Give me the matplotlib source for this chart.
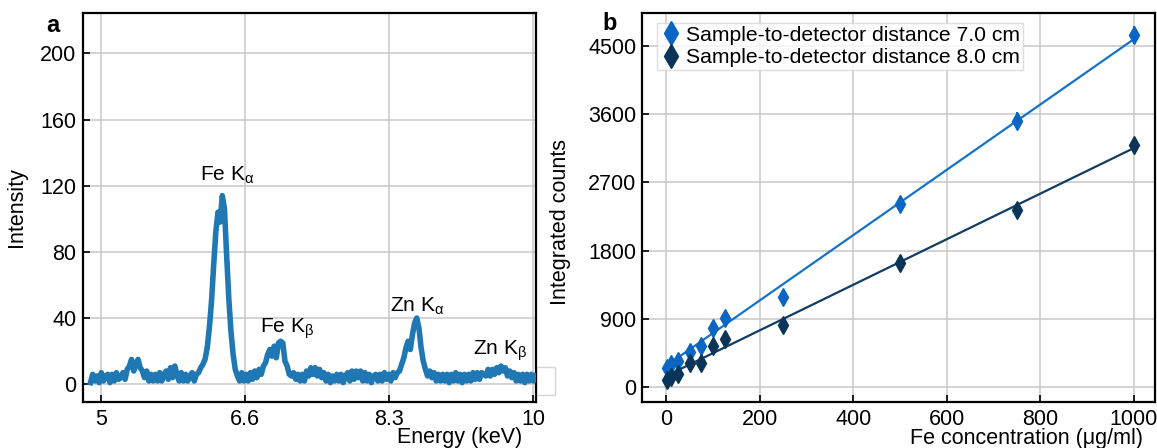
import numpy as np
import matplotlib
matplotlib.use("Agg")
import matplotlib.pyplot as plt
from matplotlib.patches import Rectangle

plt.rcParams['font.family'] = ['Liberation Sans', 'DejaVu Sans']
plt.rcParams['mathtext.fontset'] = 'custom'
plt.rcParams['mathtext.rm'] = 'Liberation Sans'
plt.rcParams['mathtext.it'] = 'Liberation Sans:italic'

# ---------------- (a) XRF spectrum ----------------
e_start, e_step = 4.875, 0.025   # keV, channel spacing
intensity = [
    # 4.875 - 5.200
    1, 6, 2, 5, 1, 7, 2, 5, 6, 1, 6, 2, 7, 3,
    # 5.225 - 5.600
    4, 7, 3, 9, 11, 15, 8, 12, 15, 10, 8, 4, 8, 2, 6, 2,
    # 5.625 - 6.000
    6, 2, 7, 2, 6, 8, 3, 10, 4, 11, 6, 2, 7, 2, 6, 2,
    # 6.025 - 6.625  (Fe K-alpha)
    5, 7, 2, 6, 7, 10, 12, 15, 22, 34, 50, 72, 92, 104, 98, 114,
    106, 78, 52, 32, 18, 9, 5, 2, 7,
    # 6.650 - 7.300  (Fe K-beta)
    2, 6, 2, 7, 3, 8, 4, 9, 6, 11, 13, 18, 21, 17, 23, 16, 25, 26,
    25, 14, 11, 6, 5, 7, 3, 6, 2,
    # 7.325 - 7.700
    6, 2, 8, 5, 10, 6, 10, 5, 9, 4, 7, 2, 6, 1, 5, 2,
    # 7.725 - 8.300
    6, 2, 6, 1, 5, 7, 2, 8, 3, 8, 4, 8, 2, 7, 2, 6, 1, 5, 6, 2, 6, 2, 7, 3,
    # 8.325 - 8.950  (Zn K-alpha)
    6, 2, 7, 4, 7, 8, 12, 16, 22, 26, 21, 30, 37, 40, 34, 22, 14, 9,
    5, 8, 4, 7, 2, 6, 2, 6,
    # 8.975 - 9.300
    2, 6, 1, 6, 2, 7, 2, 6, 1, 6, 2, 6, 2, 7,
    # 9.325 - 10.025  (Zn K-beta)
    3, 7, 3, 7, 6, 5, 9, 5, 9, 6, 10, 7, 11, 8, 10, 5, 8, 4, 7, 2,
    6, 2, 6, 1, 6, 2, 6, 2, 5,
]
energy = e_start + e_step * np.arange(len(intensity))

peak_labels = [r"Fe K$_{\mathregular{α}}$", r"Fe K$_{\mathregular{β}}$",
               r"Zn K$_{\mathregular{α}}$", r"Zn K$_{\mathregular{β}}$"]
peak_label_x = [6.46, 7.15, 8.66, 9.61]
peak_label_y = [123, 31, 44, 18]

energy_ticks = [5.0, 6.6667, 8.3333, 10.0]
energy_ticklabels = ['5', '6.6', '8.3', '10']
intensity_ticks = [0, 40, 80, 120, 160, 200]

# ---------------- (b) calibration ----------------
conc = [2, 10, 25, 50, 75, 100, 125, 250, 500, 750, 1000]
counts_7cm = [261, 305, 349, 467, 546, 778, 918, 1190, 2420, 3505, 4645]
err_7cm = [40, 40, 40, 40, 40, 45, 45, 55, 70, 120, 120]
counts_8cm = [99, 130, 173, 327, 327, 546, 633, 822, 1642, 2341, 3195]
err_8cm = [35, 35, 35, 35, 35, 40, 40, 50, 60, 90, 90]
fit_7cm = (4.30, 285)   # slope, intercept
fit_8cm = (3.00, 151)
conc_ticks = [0, 200, 400, 600, 800, 1000]
counts_ticks = [0, 900, 1800, 2700, 3600, 4500]
series_labels = ['Sample-to-detector distance 7.0 cm',
                 'Sample-to-detector distance 8.0 cm']

BLUE = '#0a66c2'
BLUE_LINE = '#1473c9'
NAVY = '#0a3558'
NAVY_LINE = '#123d62'
GRID = '#c8c8c8'
FS = 15.5

fig = plt.figure(figsize=(11.57, 4.48), dpi=100)

# empty frame peeking out at the right of panel a
fig.add_artist(Rectangle((536 / 1157, 1 - 395 / 448), 19 / 1157, 28 / 448,
                         transform=fig.transFigure, facecolor='white',
                         edgecolor='#d6d6d6', lw=1.0, zorder=-1))

ax_a = fig.add_axes([0.0715, 0.102, 0.3918, 0.8683])
ax_b = fig.add_axes([0.5553, 0.102, 0.4434, 0.8683])

for ax in (ax_a, ax_b):
    ax.grid(True, color=GRID, lw=1.1, zorder=0)
    ax.set_axisbelow(True)
    for s in ax.spines.values():
        s.set_linewidth(1.6)
    ax.tick_params(direction='in', length=5, width=1.2, labelsize=FS, pad=4.5)

# panel a
ax_a.plot(energy, intensity, color='#1f77b4', lw=4.0, solid_joinstyle='round', zorder=3)
for lab, x, y in zip(peak_labels, peak_label_x, peak_label_y):
    ax_a.text(x, y, lab, ha='center', va='baseline', fontsize=FS - 0.5, zorder=4)
ax_a.set_xlim(4.785, 10.03)
ax_a.set_ylim(-10.9, 224.2)
ax_a.set_xticks(energy_ticks)
ax_a.set_xticklabels(energy_ticklabels)
ax_a.set_yticks(intensity_ticks)
ax_a.set_xlabel('Energy (keV)', fontsize=FS)
ax_a.xaxis.set_label_coords(0.832, -0.09)
ax_a.xaxis.label.set_va('center')
ax_a.set_ylabel('Intensity', fontsize=FS)
ax_a.yaxis.set_label_coords(-0.145, 0.502)
ax_a.yaxis.label.set_va('center')

# panel b
xfit = np.array([conc[0], conc[-1]])
ax_b.plot(xfit, fit_7cm[0] * xfit + fit_7cm[1], color=BLUE_LINE, lw=1.6, zorder=2)
ax_b.plot(xfit, fit_8cm[0] * xfit + fit_8cm[1], color=NAVY_LINE, lw=1.6, zorder=2)
ax_b.errorbar(conc, counts_7cm, yerr=err_7cm, fmt='d', color=BLUE, ms=9,
              elinewidth=1.4, capsize=0, label=series_labels[0], zorder=3)
ax_b.errorbar(conc, counts_8cm, yerr=err_8cm, fmt='d', color=NAVY, ms=9,
              elinewidth=1.4, capsize=0, label=series_labels[1], zorder=3)
ax_b.set_xlim(-50.9, 1046.4)
ax_b.set_ylim(-197, 4926)
ax_b.set_xticks(conc_ticks)
ax_b.set_yticks(counts_ticks)
ax_b.set_xlabel('Fe concentration (μg/ml)', fontsize=FS)
ax_b.xaxis.set_label_coords(0.748, -0.092)
ax_b.xaxis.label.set_va('center')
ax_b.set_ylabel('Integrated counts', fontsize=FS)
ax_b.yaxis.set_label_coords(-0.159, 0.4635)
ax_b.yaxis.label.set_va('center')

leg = ax_b.legend(loc='upper left', bbox_to_anchor=(0.0283, 0.976), borderaxespad=0,
                  fontsize=15.2, frameon=True, fancybox=False, markerscale=1.35,
                  handlelength=1.0, handletextpad=0.2, borderpad=0.15,
                  labelspacing=0.15, numpoints=1)
leg.get_frame().set_edgecolor('#d6d6d6')
leg.get_frame().set_linewidth(1.0)

fig.text(53 / 1157, 1 - 25 / 448, 'a', fontsize=17, fontweight='bold', ha='center', va='center')
fig.text(610 / 1157, 1 - 24 / 448, 'b', fontsize=17, fontweight='bold', ha='center', va='center')

fig.savefig('out.png', dpi=100)
